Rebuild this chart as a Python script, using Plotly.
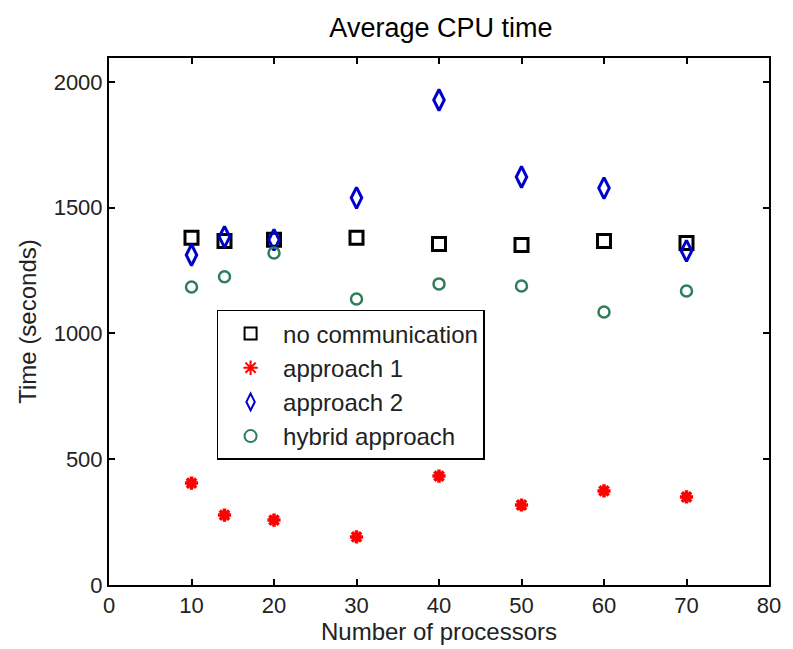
import plotly.graph_objects as go

processors = [10, 14, 20, 30, 40, 50, 60, 70]
no_comm = [1380, 1368, 1372, 1380, 1356, 1352, 1368, 1360]
approach1 = [405, 278, 258, 191, 433, 318, 374, 350]
approach2 = [1312, 1384, 1372, 1539, 1928, 1622, 1578, 1328]
hybrid = [1185, 1225, 1320, 1137, 1197, 1189, 1085, 1169]

x_ticks = [0, 10, 20, 30, 40, 50, 60, 70, 80]
y_ticks = [0, 500, 1000, 1500, 2000]

font = "Liberation Sans, Arial, sans-serif"

fig = go.Figure()
fig.add_trace(go.Scatter(x=processors, y=no_comm, mode="markers", name="no communication",
                         marker=dict(symbol="square-open", size=13, color="black", line=dict(width=3, color="black"))))
fig.add_trace(go.Scatter(x=processors, y=approach1, mode="markers", name="approach 1",
                         marker=dict(symbol="asterisk-open", size=11, color="red", line=dict(width=3.5, color="red"))))
fig.add_trace(go.Scatter(x=processors, y=approach2, mode="markers", name="approach 2",
                         marker=dict(symbol="diamond-tall-open", size=15, color="#0000cc", line=dict(width=3, color="#0000cc"))))
fig.add_trace(go.Scatter(x=processors, y=hybrid, mode="markers", name="hybrid approach",
                         marker=dict(symbol="circle-open", size=11, color="#2e7d5b", line=dict(width=2.5, color="#2e7d5b"))))

axis_common = dict(showline=True, linecolor="black", linewidth=2, mirror="ticks",
                   ticks="inside", ticklen=6, tickwidth=2, tickcolor="black",
                   showgrid=False, zeroline=False,
                   tickfont=dict(family=font, size=22, color="#222"))

fig.update_layout(
    width=793, height=649,
    margin=dict(l=109, r=15, t=58, b=64),
    plot_bgcolor="white", paper_bgcolor="white",
    title=dict(text="Average CPU time", x=0.556, xanchor="center", y=0.957, yanchor="middle",
               font=dict(family=font, size=27, color="black")),
    xaxis=dict(range=[0, 80], tickvals=x_ticks, title=dict(text="Number of processors", standoff=2,
               font=dict(family=font, size=24, color="#222")), **axis_common),
    yaxis=dict(range=[0, 2095], tickvals=y_ticks, title=dict(text="Time (seconds)", standoff=10,
               font=dict(family=font, size=24, color="#222")), **axis_common),
    legend=dict(x=0.163, y=0.522, xanchor="left", yanchor="top",
                bordercolor="black", borderwidth=1.5, bgcolor="white",
                font=dict(family=font, size=24, color="#222"), itemsizing="constant",
                itemwidth=55),
    showlegend=True,
)

fig.write_html("out.html")
